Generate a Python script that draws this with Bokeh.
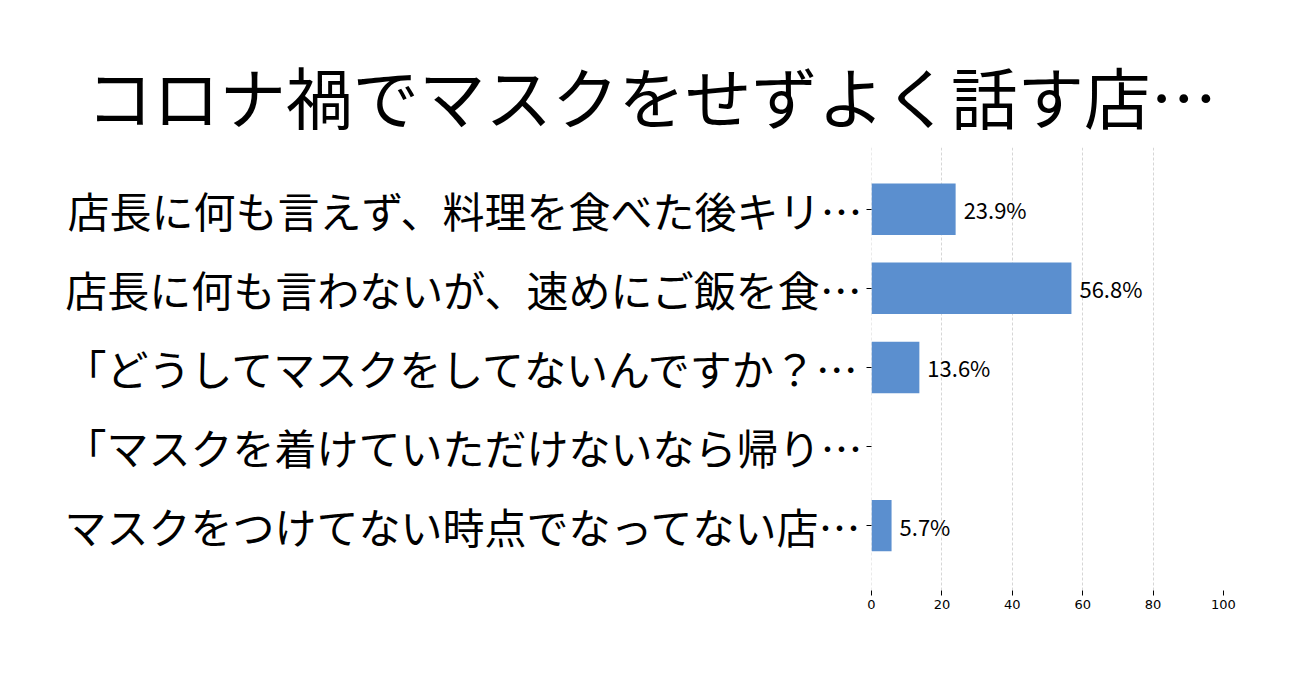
from bokeh.plotting import figure
from bokeh.models import ColumnDataSource, Range1d, FixedTicker, Span
from bokeh.core.properties import value
from bokeh.embed import file_html
from bokeh.resources import INLINE

title_text = "コロナ禍でマスクをせずよく話す店…"
categories = [
    "店長に何も言えず、料理を食べた後キリ…",
    "店長に何も言わないが、速めにご飯を食…",
    "「どうしてマスクをしてないんですか？…",
    "「マスクを着けていただけないなら帰り…",
    "マスクをつけてない時点でなってない店…",
]
percents = [23.9, 56.8, 13.6, 0.0, 5.7]
x_ticks = [0, 20, 40, 60, 80, 100]

pos = list(range(len(categories)))
source = ColumnDataSource(dict(y=pos, right=percents))
lab_idx = [i for i, v in enumerate(percents) if v > 0]
labels = ColumnDataSource(dict(
    x=[percents[i] for i in lab_idx],
    y=[pos[i] for i in lab_idx],
    text=["%.1f%%" % percents[i] for i in lab_idx],
))

p = figure(width=1290, height=667, output_backend="svg", toolbar_location=None,
           x_range=Range1d(0, 100), y_range=Range1d(4.82, -0.78),
           min_border_left=871, min_border_right=67, min_border_top=147,
           min_border_bottom=77)
p.outline_line_color = None
p.background_fill_color = "white"

p.title.text = title_text
p.title.text_font = "Noto Sans CJK JP"
p.title.text_font_size = "66.5px"
p.title.text_font_style = "normal"
p.title.align = "left"
p.title.offset = -785
p.title.standoff = 10
p.title.text_color = "black"

# grid line at zero sits on the frame edge, draw it by hand
p.add_layout(Span(location=x_ticks[0], dimension="height", line_color="#cccccc",
                  line_dash="3 2", line_width=0.8, level="underlay"))

p.hbar(y="y", right="right", left=0, height=0.65, source=source,
       fill_color="#5b8fcf", line_color=None)
p.text(x="x", y="y", text="text", source=labels, x_offset=8,
       text_baseline="middle", text_align="left",
       text_font=value("Noto Sans CJK JP"), text_font_size="22px",
       text_color="black")

p.xaxis.ticker = FixedTicker(ticks=x_ticks)
p.xaxis.axis_line_color = None
p.xaxis.minor_tick_line_color = None
p.xaxis.major_tick_in = 0
p.xaxis.major_tick_out = 5
p.xaxis.major_tick_line_color = "black"
p.xaxis.major_label_text_font = "DejaVu Sans"
p.xaxis.major_label_text_font_size = "13px"
p.xaxis.major_label_text_color = "black"
p.xaxis.major_label_standoff = 4

p.yaxis.ticker = FixedTicker(ticks=pos)
p.yaxis.major_label_overrides = {i: c for i, c in enumerate(categories)}
p.yaxis.axis_line_color = None
p.yaxis.minor_tick_line_color = None
p.yaxis.major_tick_in = 0
p.yaxis.major_tick_out = 5
p.yaxis.major_tick_line_color = "black"
p.yaxis.major_label_text_font = "Noto Sans CJK JP"
p.yaxis.major_label_text_font_size = "42px"
p.yaxis.major_label_text_color = "black"
p.yaxis.major_label_standoff = 4

p.ygrid.grid_line_color = None
p.xgrid.grid_line_color = "#cccccc"
p.xgrid.grid_line_dash = "3 2"
p.xgrid.grid_line_width = 0.8

open("out.html", "w").write(file_html(p, INLINE))
